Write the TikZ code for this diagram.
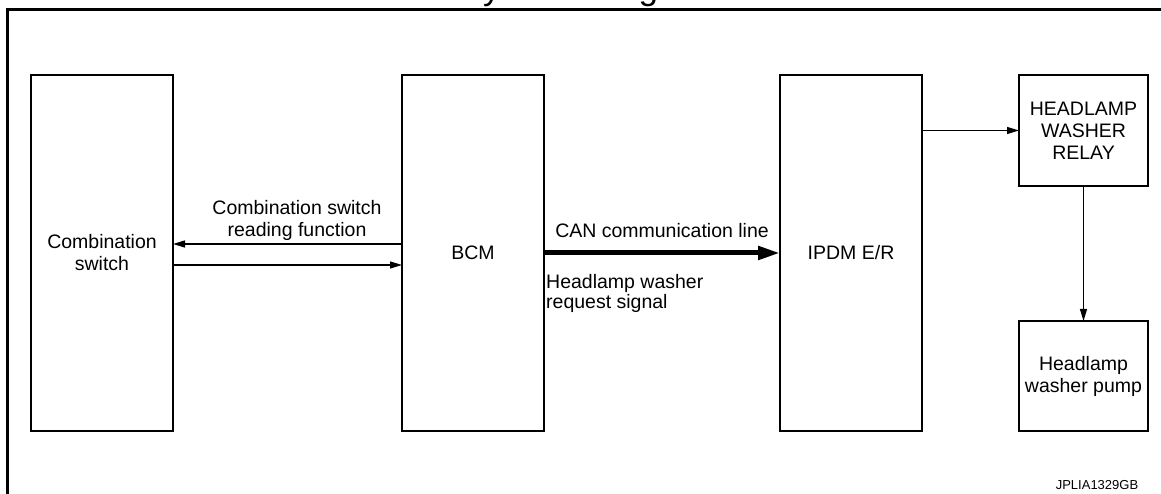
\documentclass[tikz,border=0pt]{standalone}
\usepackage{fontspec}
\setmainfont{Liberation Sans}
\usepackage{tikz}
\usetikzlibrary{positioning, arrows.meta}
\tikzstyle{block} = [rectangle, draw=black, line width=1.4pt, outer sep=0pt, align=center, minimum width=142pt, minimum height=356pt, font=\fontsize{19.5pt}{22pt}\selectfont]
\tikzstyle{smallblock} = [block, minimum width=129pt, minimum height=111pt]
\tikzstyle{lbl} = [text centered, font=\fontsize{19.5pt}{22pt}\selectfont]
\tikzstyle{arrow} = [line width=1.2pt, -{Triangle[length=12pt, width=7pt]}]
\tikzstyle{canarrow} = [line width=5pt, -{Triangle[length=22pt, width=13pt]}]

\begin{document}
\begin{tikzpicture}[x=1pt, y=1pt]
\useasboundingbox (0,0) rectangle (1161,494);
\draw [line width=3pt] (1175,484) -- (7,484) -- (7,-20);
\node (title) [anchor=base, font=\fontsize{35pt}{40pt}\selectfont] at (589,494) {System Diagram};
\node (comb) [block] at (102,241) {Combination\\switch};
\node (bcm) [block, right=229pt of comb] {BCM};
\node (ipdm) [block, right=236pt of bcm] {IPDM E/R};
\node (relay) [smallblock, right=97pt of ipdm.north east, anchor=north west] {HEADLAMP\\WASHER\\RELAY};
\node (pump) [smallblock, below=135pt of relay, minimum height=110pt] {Headlamp\\washer pump};
\draw [arrow] ([yshift=9pt]bcm.west) -- node (readlbl) [lbl, above, xshift=9.5pt, align=center] {Combination switch\\reading function} ([yshift=9pt]comb.east);
\draw [arrow] ([yshift=-12pt]comb.east) -- ([yshift=-12pt]bcm.west);
\draw [canarrow] (bcm) -- node (canlbl) [lbl, above=9.5pt] {CAN communication line} (ipdm);
\node (reqlbl) [lbl, align=left, anchor=north west, inner sep=0pt, font=\fontsize{19.5pt}{20.5pt}\selectfont] at ([xshift=2pt, yshift=-21pt]bcm.east) {Headlamp washer\\request signal};
\draw [arrow] (ipdm.east |- relay) -- (relay.west);
\draw [arrow] (relay) -- (pump);
\node (code) [anchor=base, font=\fontsize{13pt}{15pt}\selectfont] at (1097,4) {JPLIA1329GB};
\end{tikzpicture}
\end{document}
